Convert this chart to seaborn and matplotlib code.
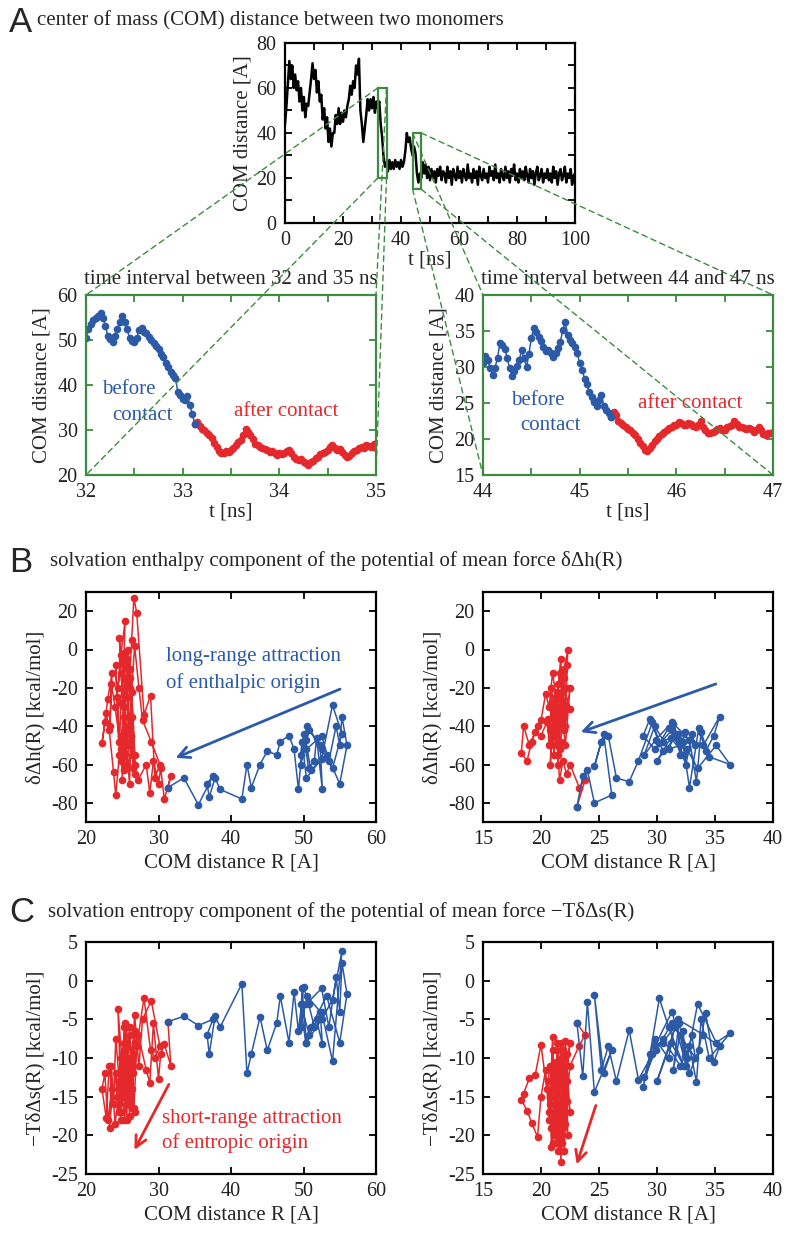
import numpy as np
import pandas as pd
import seaborn as sns
import matplotlib
matplotlib.use("Agg")
import matplotlib.pyplot as plt
from matplotlib.patches import Rectangle, ConnectionPatch
from matplotlib.ticker import MultipleLocator, FuncFormatter

sns.set_style("ticks")
plt.rcParams['font.family'] = ['Liberation Serif', 'DejaVu Serif']
plt.rcParams['axes.unicode_minus'] = False

BLUE = '#2c5aa6'
RED = '#e5282c'
GREEN = '#3d8b40'

# ---- full trajectory, COM distance every 0.5 ns (0 .. 100 ns)
com_full = [
    44, 52, 62, 72, 64, 70, 60, 66, 59, 63,
    54, 60, 50, 56, 47, 53, 52, 58, 64, 71,
    64, 68, 58, 63, 54, 57, 46, 51, 42, 47,
    36, 42, 34, 40, 40, 48, 44, 51, 44, 49,
    45, 50, 47, 52, 55, 61, 57, 63, 60, 70,
    66, 73, 50, 44, 36, 42, 48, 55, 50, 55,
    51, 56, 49, 54, 51, 54, 44, 38, 29, 25,
    27, 23, 28, 24, 27, 24, 28, 25, 27, 24,
    28, 25, 27, 32, 40, 36, 38, 33, 30, 34,
    31, 22, 18, 22, 20, 27, 22, 26, 20, 25,
    19, 24, 20, 23, 18, 24, 21, 25, 19, 23,
    22, 18, 25, 20, 23, 17, 24, 21, 19, 25,
    20, 23, 18, 24, 21, 19, 26, 20, 22, 18,
    24, 20, 23, 17, 25, 21, 19, 24, 20, 22,
    18, 25, 21, 23, 19, 26, 20, 22, 18, 24,
    21, 19, 25, 20, 23, 18, 24, 21, 26, 19,
    22, 18, 24, 20, 23, 19, 25, 21, 18, 24,
    20, 23, 17, 22, 25, 19, 21, 24, 18, 22,
    20, 24, 19, 22, 18, 25, 20, 23, 17, 22,
    24, 19, 21, 25, 18, 22, 20, 24, 17, 21,
    22,
]

# ---- interval 32-35 ns, every 0.025 ns
com_l_before = [
    50.4, 52.5, 53.5, 54.5, 55.0, 55.3, 56.0, 55.0, 53.2, 51.0,
    50.3, 49.6, 50.8, 52.5, 54.0, 55.3, 54.0, 52.5, 50.4, 49.8,
    49.6, 50.5, 52.3, 52.6, 51.8, 51.5, 50.7, 50.0, 49.3, 48.7,
    48.0, 46.8, 46.3, 45.0, 44.0, 42.8, 42.2, 41.5, 38.5, 37.8,
    37.0, 36.7, 37.5, 35.5, 33.5, 31.3,
]
com_l_after = [
    31.7, 30.8, 30.3, 30.0, 29.3, 28.8, 28.3, 27.2, 26.3, 25.4,
    24.8, 25.0, 25.3, 25.2, 25.6, 26.0, 26.7, 27.3, 27.8, 29.0,
    30.2, 29.5, 28.9, 28.0, 27.0, 26.6, 26.3, 26.0, 25.8, 25.6,
    25.2, 25.4, 24.8, 24.4, 24.9, 24.6, 24.8, 25.3, 25.6, 24.8,
    24.0, 23.5, 23.3, 23.6, 23.0, 22.6, 22.2, 22.8, 23.2, 23.8,
    24.1, 24.6, 24.8, 25.2, 25.6, 26.2, 26.7, 26.0, 25.6, 25.8,
    25.2, 24.5, 24.1, 24.3, 24.8, 25.3, 25.6, 26.0, 26.3, 26.1,
    26.7, 26.5, 26.3, 26.8, 25.9,
]
dh_l_before = [
    -52, -45, -58, -40, -50, -35, -50, -70, -55, -63,
    -47, -60, -42, -52, -62, -44, -29, -57, -67, -48,
    -55, -40, -50, -73, -46, -58, -62, -44, -73, -52,
    -45, -48, -55, -53, -60, -72, -60, -78, -73, -67,
    -77, -70, -66, -81, -67, -72,
]
dh_l_after = [
    -66, -78, -62, -70, -58, -75, -60, -68, -55, -62,
    -45, -68, -30, -55, -10, -40, 2, -20, -37, -48,
    -60, -67, -24, -34, 19, 27, 5, -15, 0, -25,
    -8, 15, -3, -20, -5, 6, -12, -35, -18, -52,
    -30, -18, -40, -12, -26, -38, -49, -33, -42, -64,
    -76, -55, -28, -2, -60, -45, -65, -20, -5, -42,
    -63, -48, -8, -25, -58, -15, -50, -70, -35, -10,
    -55, -62, -22, -60, -48,
]
ts_l_before = [
    -3, -1, -6, 0.5, -4, 2.3, -1.7, -8, -2, -6,
    -8, -3, -7, -4, -10.4, 3.8, -2.5, -5, -8, -1,
    -6, -2, -4, -8.2, -5, -6, -3, -0.8, -6.5, -1.5,
    -8, -2, -5.5, -9, -4.7, -9.5, -12, -0.4, -6, -4.6,
    -9.5, -7, -5, -5.8, -4.6, -5.3,
]
ts_l_after = [
    -11.0, -8.2, -9.5, -12.7, -5.5, -13.2, -11.5, -7, -14, -9,
    -17, -12, -6, -15, -10, -17.5, -4.4, -11, -5, -2.6,
    -8.5, -10, -9, -2.2, -8.5, -16.5, -11, -6, -13, -18,
    -11, -5.5, -14, -3.6, -9.5, -16, -12, -18, -8, -13,
    -18.5, -11, -19, -14, -18, -12, -14, -17.8, -11, -16,
    -7.5, -13, -18, -8, -15, -10, -17, -7, -12, -16,
    -9, -17, -12, -15, -10, -13, -6, -14, -11, -15,
    -8, -12, -16.5, -6.5, -11,
]

# ---- interval 44-47 ns, every 0.025 ns
com_r_before = [
    30.5, 31.5, 31.0, 29.8, 28.9, 29.9, 31.3, 33.3, 33.0, 32.5,
    31.3, 29.8, 28.8, 29.4, 30.2, 31.0, 32.3, 31.2, 30.0, 31.8,
    34.0, 35.4, 34.9, 34.2, 33.6, 32.8, 32.2, 32.4, 32.0, 31.4,
    31.9, 32.6, 33.5, 35.1, 36.3, 34.5, 33.8, 33.4, 32.8, 32.0,
    30.5, 29.6, 28.4, 27.6, 26.5, 25.8, 25.2, 24.6, 25.4, 26.1,
    24.6, 24.0, 23.6, 23.1,
]
com_r_after = [
    23.8, 23.3, 22.5, 22.2, 21.9, 21.6, 21.4, 21.2, 20.8, 20.5,
    20.0, 19.5, 19.0, 18.5, 18.3, 18.8, 19.2, 19.7, 20.0, 20.4,
    20.7, 21.0, 21.3, 21.5, 21.7, 21.9, 22.0, 22.3, 22.2, 21.9,
    22.0, 22.2, 22.1, 21.8, 21.7, 22.0, 22.5, 21.6, 21.2, 20.9,
    20.8, 21.0, 21.1, 21.4, 21.5, 21.3, 21.3, 21.6, 21.8, 22.0,
    22.5, 22.1, 21.7, 21.6, 21.5, 21.4, 21.5, 21.4, 21.0, 21.3,
    21.6, 21.2, 20.7, 20.6, 20.9, 20.8, 21.0,
]
dh_r_before = [
    -48, -45, -52, -40, -55, -47, -38, -50, -44, -60,
    -42, -52, -45, -36, -49, -41, -55, -46, -58, -44,
    -50, -35, -45, -53, -41, -72, -48, -43, -55, -39,
    -47, -52, -62, -50, -60, -56, -43, -69, -47, -50,
    -53, -38, -58, -69, -67, -45, -48, -61, -44, -76,
    -80, -63, -66, -82,
]
dh_r_after = [
    -68, -72, -60, -65, -58, -68, -50, -45, -50, -38,
    -45, -43, -50, -40, -54, -58, -48, -40, -37, -23,
    -30, -12, -25, -18, -5, -28, -10, -0.5, -20, -35,
    -15, -8, -40, -22, -48, -30, -31, -12, -35, -20,
    -42, -28, -55, -38, -60, -25, -45, -32, -15, -42,
    -20, -50, -27, -40, -55, -30, -48, -22, -40, -35,
    -52, -44, -50, -36, -46, -60, -42,
]
ts_r_before = [
    -8, -6, -10, -7.5, -12.5, -9, -5.5, -10, -7, -11,
    -4, -8.5, -13.7, -9.5, -2.3, -6, -11, -8, -13, -5,
    -7, -8.5, -10.5, -4.2, -9, -12, -6.5, -9.8, -7, -11.5,
    -5.5, -10, -3, -8, -6.8, -10, -5, -13.1, -8.5, -11,
    -7.5, -9.5, -12.8, -6.4, -13, -8.5, -11.5, -1.8, -12, -9,
    -14.4, -2.8, -12.3, -5.5,
]
ts_r_after = [
    -7.0, -8.4, -11, -15.5, -9, -13, -8, -16, -11, -14,
    -8.3, -12.2, -12.6, -14.6, -15.4, -16.8, -18.4, -20.2, -15, -11.5,
    -18, -7.3, -21, -14, -8, -19, -12, -20, -9.5, -17,
    -22, -13, -18.5, -10, -23.5, -15, -8, -19.5, -12, -21.5,
    -16, -9, -20, -13.5, -22, -17, -10.5, -15, -21, -11,
    -17, -7.8, -20.5, -14, -18, -9, -16.5, -12, -19, -14.5,
    -22, -11, -17, -13, -19, -15, -21,
]


def make_df(t0, before, after, dh_b, dh_a, ts_b, ts_a):
    com = before + after
    df = pd.DataFrame({
        't': t0 + 0.025 * np.arange(len(com)),
        'com': com,
        'dh': dh_b + dh_a,
        'ts': ts_b + ts_a,
    })
    n = len(before)
    return df.iloc[:n], df.iloc[n - 1:]


left_b, left_a = make_df(32.0, com_l_before, com_l_after, dh_l_before, dh_l_after, ts_l_before, ts_l_after)
right_b, right_a = make_df(44.0, com_r_before, com_r_after, dh_r_before, dh_r_after, ts_r_before, ts_r_after)
full = pd.DataFrame({'t': 0.5 * np.arange(len(com_full)), 'com': com_full})

hyphen = FuncFormatter(lambda v, p: f"{v:g}")

LAB = 15   # axis labels / titles
TCK = 14.5  # tick labels


def style(ax, color='black', xmaj=None, xmin=None, ymaj=None, ymin=None):
    for s in ax.spines.values():
        s.set_color(color)
        s.set_linewidth(1.6)
    ax.tick_params(which='both', direction='in', top=True, right=True, color=color,
                   labelsize=TCK, width=1.3, length=5, pad=6, labelcolor='#222222')
    ax.xaxis.set_major_locator(MultipleLocator(xmaj))
    ax.yaxis.set_major_locator(MultipleLocator(ymaj))
    if xmin:
        ax.xaxis.set_minor_locator(MultipleLocator(xmin))
    if ymin:
        ax.yaxis.set_minor_locator(MultipleLocator(ymin))
    ax.yaxis.set_major_formatter(hyphen)
    ax.xaxis.set_major_formatter(hyphen)


def traj(ax, b, a, x, y):
    kw = dict(sort=False, estimator=None, marker='o', markersize=5.5, markeredgewidth=0, lw=1.1)
    sns.lineplot(data=a, x=x, y=y, color=RED, ax=ax, **kw)
    sns.lineplot(data=b, x=x, y=y, color=BLUE, ax=ax, **kw)


W, H = 789, 1234
fig = plt.figure(figsize=(W / 100, H / 100), dpi=100)


def box(l, t, w, h):
    return [l / W, 1 - (t + h) / H, w / W, h / H]


ax_top = fig.add_axes(box(285, 43, 290, 180))
ax_z1 = fig.add_axes(box(86, 295, 290, 180))
ax_z2 = fig.add_axes(box(483, 295, 290, 180))
ax_b1 = fig.add_axes(box(86, 592, 290, 230))
ax_b2 = fig.add_axes(box(483, 592, 290, 230))
ax_c1 = fig.add_axes(box(86, 942, 290, 232))
ax_c2 = fig.add_axes(box(483, 942, 290, 232))

# ---- A: full trajectory
sns.lineplot(data=full, x='t', y='com', color='black', lw=1.8, ax=ax_top, estimator=None)
ax_top.set(xlim=(0, 100), ylim=(0, 80))
style(ax_top, xmaj=20, xmin=10, ymaj=20, ymin=10)
ax_top.set_xlabel('t [ns]', fontsize=LAB, labelpad=0)
ax_top.set_ylabel('COM distance [A]', fontsize=LAB, labelpad=3)
for (x0, x1, y0, y1) in [(32, 35, 20, 60), (44, 47, 15, 40)]:
    ax_top.add_patch(Rectangle((x0, y0), x1 - x0, y1 - y0, fill=False, ec=GREEN, lw=1.6, zorder=5))

# ---- A: zoomed intervals
for ax, b, a, rng, (y0, y1), ymaj in [(ax_z1, left_b, left_a, (32, 35), (20, 60), 10),
                                      (ax_z2, right_b, right_a, (44, 47), (15, 40), 5)]:
    traj(ax, b, a, 't', 'com')
    ax.set(xlim=rng, ylim=(y0, y1))
    style(ax, color=GREEN, xmaj=1, xmin=0.5, ymaj=ymaj)
    ax.set_title(f'time interval between {rng[0]} and {rng[1]} ns', fontsize=LAB, pad=8)
    ax.set_xlabel('t [ns]', fontsize=LAB, labelpad=0)
    ax.set_ylabel('COM distance [A]', fontsize=LAB, labelpad=4)
    for xa, ya in [(rng[0], y1), (rng[0], y0), (rng[1], y1), (rng[1], y0)]:
        con = ConnectionPatch(xyA=(xa, ya), coordsA=ax_top.transData, xyB=(xa, ya), coordsB=ax.transData,
                              color=GREEN, lw=1, ls=(0, (4, 3)), zorder=10)
        fig.add_artist(con)

ax_z1.text(32.165, 38.9, 'before', color=BLUE, fontsize=LAB, va='center')
ax_z1.text(32.27, 33.3, 'contact', color=BLUE, fontsize=LAB, va='center')
ax_z1.text(33.53, 34.0, 'after contact', color=RED, fontsize=LAB, va='center')
ax_z2.text(44.29, 25.4, 'before', color=BLUE, fontsize=LAB, va='center')
ax_z2.text(44.39, 21.9, 'contact', color=BLUE, fontsize=LAB, va='center')
ax_z2.text(45.6, 25.0, 'after contact', color=RED, fontsize=LAB, va='center')

# ---- B: enthalpy vs distance
for ax, b, a, xr, xmaj in [(ax_b1, left_b, left_a, (20, 60), 10), (ax_b2, right_b, right_a, (15, 40), 5)]:
    traj(ax, b, a, 'com', 'dh')
    ax.set(xlim=xr, ylim=(-90, 30))
    style(ax, xmaj=xmaj, ymaj=20)
    ax.set_xlabel('COM distance R [A]', fontsize=LAB, labelpad=3)
    ax.set_ylabel('δΔh(R) [kcal/mol]', fontsize=LAB, labelpad=4)

arrow_b = dict(arrowstyle='->', color=BLUE, lw=2, mutation_scale=20)
ax_b1.annotate('', xy=(32.0, -57.1), xytext=(55.4, -20.1), arrowprops=arrow_b)
ax_b2.annotate('', xy=(23.2, -43.6), xytext=(35.3, -17.5), arrowprops=arrow_b)
ax_b1.text(31.0, -3.9, 'long-range attraction', color=BLUE, fontsize=LAB, va='center')
ax_b1.text(31.0, -17.5, 'of enthalpic origin', color=BLUE, fontsize=LAB, va='center')

# ---- C: entropy vs distance
for ax, b, a, xr, xmaj in [(ax_c1, left_b, left_a, (20, 60), 10), (ax_c2, right_b, right_a, (15, 40), 5)]:
    traj(ax, b, a, 'com', 'ts')
    ax.set(xlim=xr, ylim=(-25, 5))
    style(ax, xmaj=xmaj, ymaj=5)
    ax.set_xlabel('COM distance R [A]', fontsize=LAB, labelpad=3)
    ax.set_ylabel('−TδΔs(R) [kcal/mol]', fontsize=LAB, labelpad=4)

arrow_c = dict(arrowstyle='->', color=RED, lw=2, mutation_scale=20)
ax_c1.annotate('', xy=(26.5, -22.2), xytext=(31.6, -13.1), arrowprops=arrow_c)
ax_c2.annotate('', xy=(23.0, -24.1), xytext=(24.8, -15.8), arrowprops=arrow_c)
ax_c1.text(30.5, -17.8, 'short-range attraction', color=RED, fontsize=LAB, va='center')
ax_c1.text(30.5, -21.0, 'of entropic origin', color=RED, fontsize=LAB, va='center')

# ---- panel headings
heads = [
    ('A', 22, 37, 'center of mass (COM) distance between two monomers'),
    ('B', 562, 50, 'solvation enthalpy component of the potential of mean force δΔh(R)'),
    ('C', 913, 48, 'solvation entropy component of the potential of mean force −TδΔs(R)'),
]
for letter, yc, xt, txt in heads:
    fig.text(9 / W, 1 - yc / H, letter, fontsize=25, family=['Liberation Sans', 'DejaVu Sans'], va='center')
    fig.text(xt / W, 1 - (yc - 1) / H, txt, fontsize=LAB, va='center')

fig.savefig('out.png', dpi=100)
